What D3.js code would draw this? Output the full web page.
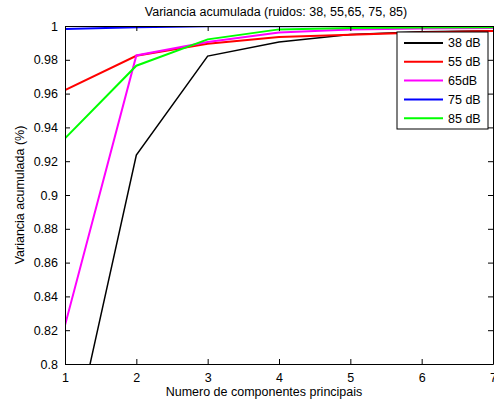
<!DOCTYPE html>
<html>
<head>
<meta charset="utf-8">
<script src="https://cdn.jsdelivr.net/npm/d3@7"></script>
<style>
  body { margin: 0; background: #fff; }
  text { font-family: "Liberation Sans", Arial, sans-serif; }
</style>
</head>
<body>
<div id="chart"></div>
<script>
// Number of principal components
const components = [1, 2, 3, 4, 5, 6, 7];

// Accumulated variance per noise level
const var38 = [0.733, 0.9236, 0.9822, 0.9905, 0.9950, 0.9966, 0.9972];
const var55 = [0.9621, 0.9824, 0.9895, 0.9935, 0.9948, 0.9962, 0.9970];
const var65 = [0.8229, 0.9826, 0.9905, 0.9962, 0.9980, 0.9985, 0.9988];
const var75 = [0.9982, 0.9993, 0.9998, 0.9999, 1.0, 1.0, 1.0];
const var85 = [0.9335, 0.9765, 0.9921, 0.9980, 0.9988, 0.9991, 0.9992];

const seriesNames = ["38 dB", "55 dB", "65dB", "75 dB", "85 dB"];
const seriesColors = ["#000000", "#ff0000", "#ff00ff", "#0000ff", "#00ff00"];
const seriesValues = [var38, var55, var65, var75, var85];

const yTicks = [0.8, 0.82, 0.84, 0.86, 0.88, 0.9, 0.92, 0.94, 0.96, 0.98, 1];

const width = 494, height = 406;
const margin = { top: 26, right: 1, bottom: 42, left: 65 };
const innerW = width - margin.left - margin.right;
const innerH = height - margin.top - margin.bottom;

const svg = d3.select("#chart").append("svg")
    .attr("width", width)
    .attr("height", height);

const x = d3.scaleLinear().domain([1, 7]).range([margin.left, margin.left + innerW]);
const y = d3.scaleLinear().domain([0.8, 1]).range([margin.top + innerH, margin.top]);

// clip to plot area
svg.append("clipPath").attr("id", "clip")
  .append("rect")
    .attr("x", margin.left).attr("y", margin.top)
    .attr("width", innerW).attr("height", innerH);

// Lines
const line = d3.line()
    .x((d, i) => x(components[i]))
    .y(d => y(d));

const lines = svg.append("g").attr("clip-path", "url(#clip)");
seriesValues.forEach((vals, i) => {
  lines.append("path")
      .attr("d", line(vals))
      .attr("fill", "none")
      .attr("stroke", seriesColors[i])
      .attr("stroke-width", i === 0 ? 1.5 : 2);
});

// Axes (ticks pointing inward, MATLAB style)
const tickFont = 12.5;
const xAxis = svg.append("g")
    .attr("transform", `translate(0,${margin.top + innerH})`)
    .call(d3.axisBottom(x).tickValues(components).tickFormat(d3.format("d"))
      .tickSizeInner(-5).tickSizeOuter(0).tickPadding(9));
const yAxis = svg.append("g")
    .attr("transform", `translate(${margin.left},0)`)
    .call(d3.axisLeft(y).tickValues(yTicks).tickFormat(d => String(+d.toFixed(2)))
      .tickSizeInner(-5).tickSizeOuter(0).tickPadding(7));
const xTop = svg.append("g")
    .attr("transform", `translate(0,${margin.top})`)
    .call(d3.axisTop(x).tickValues(components).tickSizeInner(-5).tickSizeOuter(0).tickFormat(""));
const yRight = svg.append("g")
    .attr("transform", `translate(${margin.left + innerW},0)`)
    .call(d3.axisRight(y).tickValues(yTicks).tickSizeInner(-5).tickSizeOuter(0).tickFormat(""));

[xAxis, yAxis, xTop, yRight].forEach(g => {
  g.selectAll("path").attr("stroke", "#000").attr("stroke-width", 1);
  g.selectAll("line").attr("stroke", "#000");
  g.selectAll("text")
      .attr("fill", "#000")
      .style("font-size", tickFont + "px")
      .style("font-family", "'Liberation Sans', Arial, sans-serif");
});

// Title and axis labels
svg.append("text")
    .attr("x", margin.left + innerW / 2 - 3)
    .attr("y", 16)
    .attr("text-anchor", "middle")
    .style("font-size", "12.5px")
    .text("Variancia acumulada (ruidos: 38, 55,65, 75, 85)");

svg.append("text")
    .attr("x", margin.left + innerW / 2 - 15)
    .attr("y", 396)
    .attr("text-anchor", "middle")
    .style("font-size", "12.5px")
    .text("Numero de componentes principais");

svg.append("text")
    .attr("transform", `translate(24,${margin.top + innerH / 2}) rotate(-90)`)
    .attr("text-anchor", "middle")
    .style("font-size", "12.5px")
    .text("Variancia acumulada (%)");

// Legend
const legend = svg.append("g").attr("transform", "translate(397,32)");
legend.append("rect")
    .attr("width", 91).attr("height", 97)
    .attr("fill", "#fff").attr("stroke", "#000");
const items = legend.selectAll("g.item")
    .data(seriesNames)
    .enter().append("g")
    .attr("class", "item")
    .attr("transform", (d, i) => `translate(0,${11 + i * 18.8})`);
items.append("line")
    .attr("x1", 7).attr("x2", 46)
    .attr("stroke", (d, i) => seriesColors[i])
    .attr("stroke-width", 2);
items.append("text")
    .attr("x", 51).attr("dy", "0.35em")
    .style("font-size", "12.5px")
    .text(d => d);
</script>
</body>
</html>
